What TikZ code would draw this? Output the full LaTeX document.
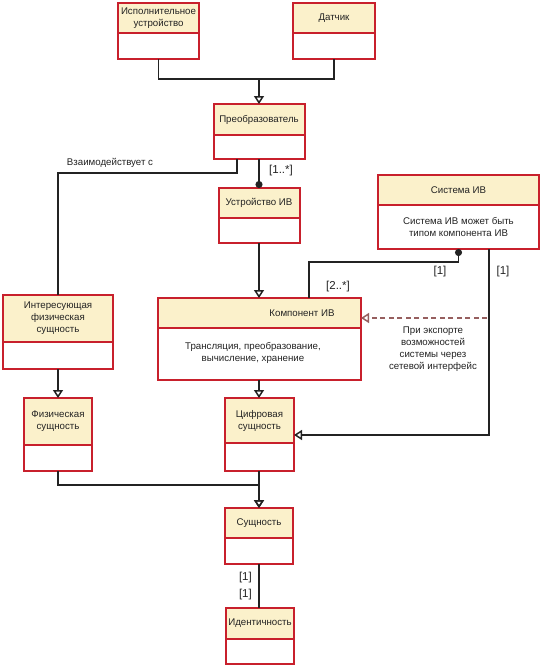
\documentclass[tikz,border=0pt]{standalone}
\usepackage{fontspec}
\setmainfont{Liberation Sans}
\usetikzlibrary{positioning,arrows.meta}
\definecolor{umlred}{RGB}{200,32,44}
\definecolor{umlfill}{RGB}{251,241,203}
\definecolor{umltext}{RGB}{35,35,35}
\definecolor{umldash}{RGB}{150,95,95}
\begin{document}
\begin{tikzpicture}[x=1pt, y=-1pt,
	head/.style={draw=umlred, fill=umlfill, line width=2pt, text=umltext, align=center,
		inner sep=0pt, outer sep=0pt, font=\fontsize{9.7}{12}\selectfont},
	body/.style={draw=umlred, fill=white, line width=2pt, text=umltext, align=center,
		inner sep=0pt, outer sep=0pt, font=\fontsize{9.7}{12}\selectfont},
	txt/.style={text=umltext, align=center, inner sep=0pt, font=\fontsize{9.7}{12}\selectfont},
	mult/.style={text=umltext, inner sep=0pt, font=\fontsize{11.5}{13}\selectfont},
	link/.style={draw=umltext, line width=1.5pt},
	gen/.style={link, -{Triangle[open, length=8pt, width=10pt]}},
	dotend/.style={link, -{Circle[length=7pt]}}]
	\fill[white] (0,0) rectangle (543,669);
	\useasboundingbox (0,0) rectangle (543,669);

	% top row
	\node[head, minimum width=81pt, minimum height=30pt] (act) at (158.5,18) {Исполнительное\\устройство};
	\node[body, minimum width=81pt, minimum height=26pt, below=0pt of act] (actb) {};

	\node[head, minimum width=82pt, minimum height=30pt] (sens) at (334,18) {Датчик};
	\node[body, minimum width=82pt, minimum height=26pt, below=0pt of sens] (sensb) {};

	\node[head, minimum width=91pt, minimum height=31pt] (conv) at (259,119.5) {Преобразователь};
	\node[body, minimum width=91pt, minimum height=24pt, below=0pt of conv] (convb) {};

	\node[head, minimum width=81pt, minimum height=30pt] (dev) at (259,203) {Устройство ИВ};
	\node[body, minimum width=81pt, minimum height=25pt, below=0pt of dev] (devb) {};

	\node[head, minimum width=161pt, minimum height=30pt] (sys) at (458.5,190) {Система ИВ};
	\node[body, minimum width=161pt, minimum height=44pt, below=0pt of sys] (sysb) {Система ИВ может быть\\типом компонента ИВ};

	% component
	\node[head, minimum width=203pt, minimum height=30pt] (comp) at (259.5,313) {};
	\node[body, minimum width=203pt, minimum height=52pt, below=0pt of comp] (compb) {};
	\node[txt] (compt) at (302,313) {Компонент ИВ};
	\node[txt] (compd) at (253,353) {Трансляция, преобразование,\\вычисление, хранение};

	% entities
	\node[head, minimum width=110pt, minimum height=47pt] (poi) at (58,318.5) {Интересующая\\физическая\\сущность};
	\node[body, minimum width=110pt, minimum height=27pt, below=0pt of poi] (poib) {};

	\node[head, minimum width=68pt, minimum height=47pt] (phys) at (58,421.5) {Физическая\\сущность};
	\node[body, minimum width=68pt, minimum height=26pt, below=0pt of phys] (physb) {};

	\node[head, minimum width=69pt, minimum height=45pt] (dig) at (259.5,420.5) {Цифровая\\сущность};
	\node[body, minimum width=69pt, minimum height=28pt, below=0pt of dig] (digb) {};

	\node[head, minimum width=68pt, minimum height=30pt] (ent) at (259,523) {Сущность};
	\node[body, minimum width=68pt, minimum height=26pt, below=0pt of ent] (entb) {};

	\node[head, minimum width=68pt, minimum height=31pt] (idn) at (260,623.5) {Идентичность};
	\node[body, minimum width=68pt, minimum height=25pt, below=0pt of idn] (idnb) {};

	% connectors
	\coordinate (jtop) at (259,79);
	\draw[link] (actb.south) |- (jtop) -| (sensb.south);
	\draw[gen] (jtop) -- (conv.north);

	\coordinate (jint) at (237,173);
	\draw[link] (jint |- convb.south) -- (jint) -| (poi.north);
	\node[txt] (lint) at (110,163) {Взаимодействует с};

	\draw[dotend] (convb.south) -- (dev.north);
	\node[mult] (m1) at (281,171) {[1..*]};

	\draw[gen] (devb.south) -- (devb.south |- comp.north);

	\coordinate (jsys) at (309,262);
	\draw[dotend] (jsys |- comp.north) -- (jsys) -| (sysb.south);
	\node[mult] (m2) at (440,272) {[1]};
	\node[mult] (m3) at (338,287) {[2..*]};

	\coordinate (jdig) at (489,435);
	\draw[gen] (jdig |- sysb.south) -- (jdig) -- (jdig -| dig.east);
	\node[mult] (m4) at (503,272) {[1]};

	\coordinate (jexp) at (487,318);
	\draw[link, draw=umldash, dash pattern=on 5pt off 3.5pt, -{Triangle[open, length=8pt, width=10pt]}] (jexp) -- (jexp -| comp.east);
	\node[txt] (lexp) at (433,349.5) {При экспорте\\возможностей\\системы через\\сетевой интерфейс};

	\draw[gen] (devb.south |- compb.south) -- (devb.south |- dig.north);
	\draw[gen] (poib.south) -- (phys.north);

	\coordinate (jent) at (259,485);
	\draw[gen] (physb.south) |- (jent) -- (ent.north);
	\draw[gen] (digb.south -| ent.north) -- (ent.north);

	\draw[link] (entb.south) -- (entb.south |- idn.north);
	\node[mult, anchor=east] (m5) at (252,578) {[1]};
	\node[mult, anchor=east] (m6) at (252,595) {[1]};
\end{tikzpicture}
\end{document}
